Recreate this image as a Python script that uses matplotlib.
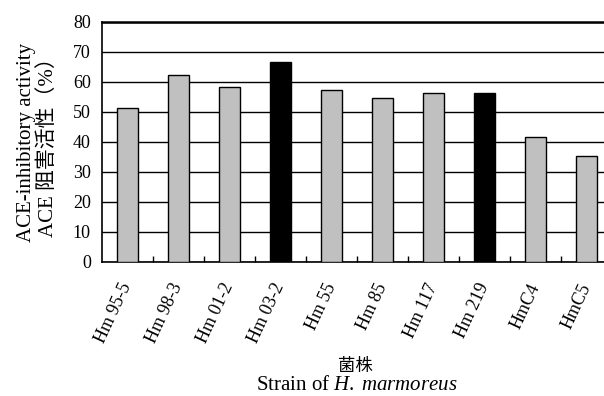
import matplotlib.pyplot as plt
from matplotlib.ticker import MultipleLocator, FixedLocator

plt.rcParams['font.family'] = ['Liberation Serif', 'Noto Sans CJK JP']
plt.rcParams['mathtext.fontset'] = 'custom'
plt.rcParams['mathtext.rm'] = 'Liberation Serif'
plt.rcParams['mathtext.it'] = 'Liberation Serif:italic'

# data
strains = ["Hm 95-5", "Hm 98-3", "Hm 01-2", "Hm 03-2", "Hm 55",
           "Hm 85", "Hm 117", "Hm 219", "HmC4", "HmC5"]
activity = [51.5, 62.2, 58.2, 66.7, 57.3, 54.7, 56.3, 56.3, 41.7, 35.5]
highlight = [False, False, False, True, False, False, False, True, False, False]

fig = plt.figure(figsize=(6.04, 3.96), dpi=100)
ax = fig.add_axes([102 / 604, 134 / 396, 510 / 604, 240 / 396])

colors = ["#000000" if h else "#c0c0c0" for h in highlight]
x = list(range(len(strains)))
ax.bar(x, activity, width=0.4, color=colors, edgecolor="black", linewidth=1.0, zorder=3)

ax.set_xlim(-0.5, len(strains) - 0.5)
ax.set_ylim(0, 80)
ax.yaxis.set_major_locator(MultipleLocator(10))
ax.grid(axis="y", color="black", linewidth=1.0, zorder=0)

ax.set_xticks(x)
ax.set_xticklabels(strains, rotation=65, ha="right", va="center",
                   rotation_mode="anchor", fontsize=13)
ax.xaxis.set_minor_locator(FixedLocator([i + 0.5 for i in range(len(strains) - 1)]))
ax.tick_params(axis="x", which="major", length=0, pad=16)
ax.tick_params(axis="x", which="minor", direction="in", length=4, width=1)
ax.tick_params(axis="y", length=0, labelsize=13, pad=8)

for s in ["left", "bottom"]:
    ax.spines[s].set_linewidth(1.2)
ax.spines["top"].set_linewidth(1.8)
ax.spines["right"].set_visible(False)

ax.set_ylabel("ACE-inhibitory activity\nACE 阻害活性（%）", fontsize=15,
              labelpad=11, linespacing=1.1)

fig.text(355 / 604, 1 - 367 / 396, "菌株", ha="center", va="center", fontsize=12.5)
fig.text(357 / 604, 1 - 385 / 396, r"Strain of $\mathit{H.\;marmoreus}$",
         ha="center", va="center", fontsize=15)

fig.savefig("out.png", dpi=100)
